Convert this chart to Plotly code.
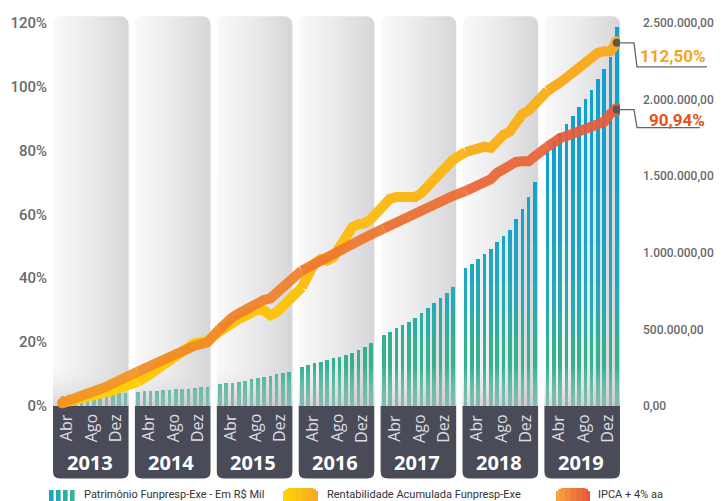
import numpy as np
import plotly.graph_objects as go

# ---------------- DATA ----------------
years = [2013, 2014, 2015, 2016, 2017, 2018, 2019]
month_labels = ["Abr", "Ago", "Dez"]

# Patrimônio Funpresp-Exe - Em R$ Mil (monthly; 2013 starts in February)
pat_2013 = [67000, 69000, 71000, 73000, 75000, 77000, 79000, 81000, 83000, 85000, 87000]
pat_2014 = [93000, 96000, 98000, 100000, 102000, 104000, 108000, 111000, 114000, 117500, 122000, 126000]
pat_2015 = [141600, 148000, 152000, 159000, 165000, 174000, 181000, 189000, 198000, 206000, 215000, 224000]
pat_2016 = [257000, 268000, 279000, 289000, 300000, 311000, 322000, 333000, 348000, 366000, 385000, 409000]
pat_2017 = [463000, 485000, 507000, 529000, 550000, 572000, 605000, 638000, 670000, 703000, 735000, 779000]
pat_2018 = [899000, 927000, 957000, 990000, 1025000, 1072000, 1110000, 1149000, 1219000, 1286000, 1366000, 1464000]
pat_2019 = [1671000, 1730000, 1782000, 1841000, 1893000, 1952000, 2004000, 2063000, 2134000, 2200000, 2278000, 2474000]

# Rentabilidade Acumulada Funpresp-Exe (%)
rent_2013 = [1.0, 1.4, 1.9, 2.4, 2.9, 3.4, 3.8, 4.3, 4.9, 5.6, 6.2]
rent_2014 = [7.6, 8.6, 10.0, 11.5, 12.9, 14.4, 15.9, 17.4, 18.9, 19.7, 20.0, 20.4]
rent_2015 = [23.4, 24.9, 26.2, 27.2, 28.2, 29.2, 30.2, 29.9, 28.4, 29.3, 31.1, 33.0]
rent_2016 = [37.1, 40.9, 44.6, 46.0, 45.5, 46.6, 49.7, 52.8, 56.0, 56.9, 57.2, 58.6]
rent_2017 = [62.8, 64.9, 65.4, 65.4, 65.4, 65.4, 66.7, 68.7, 70.6, 72.5, 74.7, 77.1]
rent_2018 = [79.5, 80.2, 80.8, 81.2, 80.8, 83.1, 84.9, 85.9, 88.7, 91.4, 92.5, 94.3]
rent_2019 = [98.7, 99.7, 101.3, 102.8, 104.4, 105.9, 107.5, 109.0, 110.6, 111.1, 111.1, 113.7]

# IPCA + 4% aa (%)
ipca_2013 = [1.0, 1.6, 2.4, 3.1, 3.9, 4.6, 5.3, 6.1, 6.9, 7.9, 8.9]
ipca_2014 = [10.8, 11.8, 12.7, 13.6, 14.5, 15.5, 16.3, 17.2, 18.0, 18.9, 19.7, 19.9]
ipca_2015 = [24.2, 26.5, 27.8, 29.0, 30.1, 31.3, 32.4, 33.2, 33.7, 35.4, 37.2, 38.9]
ipca_2016 = [42.4, 43.5, 44.6, 45.8, 46.8, 47.8, 48.7, 49.7, 50.8, 51.8, 52.7, 53.7]
ipca_2017 = [55.6, 56.6, 57.5, 58.5, 59.0, 59.8, 60.8, 61.8, 62.8, 63.9, 64.9, 65.8]
ipca_2018 = [67.3, 68.1, 68.8, 69.5, 71.0, 73.0, 74.1, 75.3, 76.4, 76.6, 76.6, 78.2]
ipca_2019 = [81.2, 82.7, 83.9, 84.5, 85.2, 85.9, 86.6, 87.3, 88.0, 89.0, 91.6, 92.8]

final_rent_label = "112,50%"
final_ipca_label = "90,94%"

left_ticks = [0, 20, 40, 60, 80, 100, 120]
right_ticks = [0, 500000, 1000000, 1500000, 2000000, 2500000]

legend_labels = ["Patrimônio Funpresp-Exe - Em R$ Mil",
                 "Rentabilidade Acumulada Funpresp-Exe",
                 "IPCA + 4% aa"]

# ---------------- GEOMETRY / STYLE ----------------
W, H = 724, 501
ML, MR, MT, MB = 53, 104, 16, 22
PW, PH = W - ML - MR, H - MT - MB
SLOT = 13                      # 12 months + 1 gap per year
XMIN, XMAX = -0.5, len(years) * SLOT - 1.5
PXX = PW / (XMAX - XMIN)        # px per x unit
PXY = 383.3 / 120.0             # px per percent
YMAX = 120 + (22.7 - MT) / PXY
YMIN = YMAX - PH / PXY
Y2K = 2500000 / 120.0           # R$ Mil per percent (both axes share pixels)

def px_to_paper_x(px):
    return (px - ML) / PW

def px_to_paper_y(py):
    return (MT + PH - py) / PH

def series_xy(lists):
    xs, ys = [], []
    for i, vals in enumerate(lists):
        start = 12 - len(vals)
        for k, v in enumerate(vals):
            xs.append(i * SLOT + start + k)
            ys.append(v)
    return xs, ys

pat_x, pat_y = series_xy([pat_2013, pat_2014, pat_2015, pat_2016, pat_2017, pat_2018, pat_2019])
rent_x, rent_y = series_xy([rent_2013, rent_2014, rent_2015, rent_2016, rent_2017, rent_2018, rent_2019])
ipca_x, ipca_y = series_xy([ipca_2013, ipca_2014, ipca_2015, ipca_2016, ipca_2017, ipca_2018, ipca_2019])

def br_number(v):
    s = f"{v:,.2f}"
    return s.replace(",", "X").replace(".", ",").replace("X", ".")

def mix(c1, c2, t):
    a = [int(c1[i:i + 2], 16) for i in (1, 3, 5)]
    b = [int(c2[i:i + 2], 16) for i in (1, 3, 5)]
    return "#" + "".join(f"{round(a[j] + (b[j] - a[j]) * t):02x}" for j in range(3))

fig = go.Figure()

# ---- light panels (horizontal gradient, rounded top) on main y axis
def rounded_top(x0, x1, y0, y1, r=8, n=8):
    rx, ry = r / PXX, r / PXY
    xs, ys = [x0], [y0]
    for k in range(n + 1):
        a = np.pi - k * (np.pi / 2) / n
        xs.append(x0 + rx + rx * np.cos(a)); ys.append(y1 - ry + ry * np.sin(a))
    for k in range(n + 1):
        a = np.pi / 2 - k * (np.pi / 2) / n
        xs.append(x1 - rx + rx * np.cos(a)); ys.append(y1 - ry + ry * np.sin(a))
    xs += [x1, x0]; ys += [y0, y0]
    return xs, ys

for i, yr in enumerate(years):
    x0, x1 = i * SLOT - 0.5, i * SLOT + 11.5
    xs, ys = rounded_top(x0, x1, 0, YMAX - 0.05)
    fig.add_trace(go.Scatter(
        x=xs, y=ys, mode="lines", fill="toself", line=dict(width=0),
        fillgradient=dict(type="horizontal", start=x0, stop=x1,
                          colorscale=[[0, "#f9f9f9"], [0.5, "#eaeaeb"], [1, "#d6d6d9"]]),
        hoverinfo="skip", showlegend=False, xaxis="x", yaxis="y"))

# ---- bars (colour bands to mimic the vertical gradient) on y2
bands = [(0, 450000, "#35b192"), (450000, 600000, "#2eaea3"), (600000, 800000, "#26aab3"),
         (800000, 1050000, "#1fa7c0"), (1050000, 1400000, "#18a4c9"), (1400000, 9e9, "#12a1cf")]
for lo, hi, col in bands:
    seg = [max(0, min(v, hi) - lo) for v in pat_y]
    fig.add_trace(go.Bar(x=pat_x, y=seg, width=0.56, marker=dict(color=col, line=dict(width=0)),
                         hoverinfo="skip", showlegend=False, xaxis="x", yaxis="y2"))

# ---- bottom fade over bars
fx, fy = [], []
fade_top = 40 / PXY * Y2K
for i in range(len(years)):
    x0, x1 = i * SLOT - 0.5, i * SLOT + 11.5
    fx += [x0, x1, x1, x0, x0, None]
    fy += [0, 0, fade_top, fade_top, 0, None]
fig.add_trace(go.Scatter(
    x=fx, y=fy, mode="lines", fill="toself", line=dict(width=0),
    fillgradient=dict(type="vertical", start=0, stop=fade_top,
                      colorscale=[[0, "rgba(190,190,196,0.6)"], [1, "rgba(232,232,234,0)"]]),
    hoverinfo="skip", showlegend=False, xaxis="x", yaxis="y2"))

# ---- lines on y3 (per-year segments to mimic the colour gradient)
def add_gradient_line(xs, ys, c_start, c_end, opacity):
    n = len(years)
    for i in range(n):
        idx = [k for k, xv in enumerate(xs) if i * SLOT <= xv < (i + 1) * SLOT]
        if i < n - 1:
            idx = idx + [idx[-1] + 1]
        col = mix(c_start, c_end, i / (n - 1))
        fig.add_trace(go.Scatter(x=[xs[k] for k in idx], y=[ys[k] for k in idx], mode="lines",
                                 line=dict(color=col, width=10), opacity=opacity,
                                 hoverinfo="skip", showlegend=False, xaxis="x", yaxis="y3"))

add_gradient_line(rent_x, rent_y, "#ffcf08", "#f8ac24", 1.0)
add_gradient_line(ipca_x, ipca_y, "#f49320", "#e85c3a", 0.93)

# round cap at start
fig.add_trace(go.Scatter(x=[ipca_x[0]], y=[ipca_y[0]], mode="markers",
                         marker=dict(color="#f49320", size=11), hoverinfo="skip",
                         showlegend=False, xaxis="x", yaxis="y3"))
# end dots
for xs_, ys_, col in [(rent_x, rent_y, "#f8ac24"), (ipca_x, ipca_y, "#e85c3a")]:
    fig.add_trace(go.Scatter(x=[xs_[-1]], y=[ys_[-1]], mode="markers",
                             marker=dict(color=col, size=13), hoverinfo="skip",
                             showlegend=False, xaxis="x", yaxis="y3"))
    fig.add_trace(go.Scatter(x=[xs_[-1]], y=[ys_[-1]], mode="markers",
                             marker=dict(color="#555555", size=8), hoverinfo="skip",
                             showlegend=False, xaxis="x", yaxis="y3"))

shapes = []
annotations = []

# ---- dark bottom panels (rounded bottom corners)
for i, yr in enumerate(years):
    x0, x1 = i * SLOT - 0.5, i * SLOT + 11.5
    rx, ry = 7 / PXX, 7 / PXY
    yb = YMIN + 0.15
    path = (f"M {x0},0 L {x0},{yb + ry} Q {x0},{yb} {x0 + rx},{yb} "
            f"L {x1 - rx},{yb} Q {x1},{yb} {x1},{yb + ry} L {x1},0 Z")
    shapes.append(dict(type="path", path=path, xref="x", yref="y", layer="below",
                       fillcolor="#4a4b58", line=dict(width=0)))
    # month labels
    for lab, off in zip(month_labels, [1.6, 5.5, 9.3]):
        annotations.append(dict(x=i * SLOT + off, y=-6.5 / PXY, xref="x", yref="y",
                                text=lab, textangle=-90, showarrow=False,
                                xanchor="center", yanchor="top",
                                font=dict(family="Open Sans, Arial", size=16, color="#dcdce2")))
    annotations.append(dict(x=i * SLOT + 5.3, y=-56.5 / PXY, xref="x", yref="y",
                            text=f"<b>{yr}</b>", showarrow=False,
                            xanchor="center", yanchor="middle",
                            font=dict(family="Open Sans, Arial", size=20, color="#ffffff")))

# ---- end-value leader lines and labels
def leader(xv, yv, drop_px, end_px, text, col, tx_px, ty_off):
    dx = px_to_paper_x(ML + (xv - XMIN) * PXX)
    dy = (yv - YMIN) / (YMAX - YMIN)
    xa = px_to_paper_x(634)
    xb = px_to_paper_x(637)
    xc = px_to_paper_x(end_px)
    dy2 = dy - drop_px / PH
    shapes.append(dict(type="path", xref="paper", yref="paper",
                       path=f"M {dx},{dy} L {xa},{dy} L {xb},{dy2} L {xc},{dy2}",
                       line=dict(color="#666666", width=1.3)))
    annotations.append(dict(x=px_to_paper_x(tx_px), y=dy - ty_off / PH, xref="paper", yref="paper",
                            text=f"<b>{text}</b>", showarrow=False, xanchor="center",
                            yanchor="middle",
                            font=dict(family="Roboto, Arial", size=17, color=col)))

leader(rent_x[-1], rent_y[-1], 24, 707, final_rent_label, "#f4a41e", 673, 13)
leader(ipca_x[-1], ipca_y[-1], 18, 700, final_ipca_label, "#e2531f", 677, 10)

# ---- custom legend
ly0, ly1 = px_to_paper_y(503), px_to_paper_y(490)
for k in range(4):
    bx0 = 49 + k * 7.0
    shapes.append(dict(type="rect", xref="paper", yref="paper",
                       x0=px_to_paper_x(bx0), x1=px_to_paper_x(bx0 + 4.6),
                       y0=ly0, y1=ly1, fillcolor=mix("#1aa6c2", "#38b294", k / 3),
                       line=dict(width=0)))

def pill(px0, px1, py0, py1, c0, c1, r=7, n=14):
    step = (px1 - px0) / n
    for k in range(n):
        sx0 = px0 + k * step
        sx1 = sx0 + step + 0.4
        cx = sx0 + step / 2
        d = min(cx - px0, px1 - cx)
        top = py0 + (r - np.sqrt(max(r * r - (r - d) ** 2, 0)) if d < r else 0)
        shapes.append(dict(type="rect", xref="paper", yref="paper",
                           x0=px_to_paper_x(sx0), x1=px_to_paper_x(min(sx1, px1)),
                           y0=px_to_paper_y(py1), y1=px_to_paper_y(top),
                           fillcolor=mix(c0, c1, k / (n - 1)), line=dict(width=0)))

pill(283, 318, 488, 506, "#ffd400", "#f7a823")
pill(556, 590, 488, 506, "#f6a33a", "#e8553b")

for lab, lx in zip(legend_labels, [82, 325, 596]):
    annotations.append(dict(x=px_to_paper_x(lx), y=px_to_paper_y(494), xref="paper", yref="paper",
                            text=lab, showarrow=False, xanchor="left", yanchor="middle",
                            font=dict(family="Roboto, Arial", size=11, color="#333333")))

tickfont = dict(family="Roboto, Arial", size=15, color="#6a6a6a", weight=500)
fig.update_layout(
    width=W, height=H,
    margin=dict(l=ML, r=MR, t=MT, b=MB, autoexpand=False),
    paper_bgcolor="#ffffff", plot_bgcolor="rgba(0,0,0,0)",
    showlegend=False, barmode="stack", hovermode=False,
    xaxis=dict(range=[XMIN, XMAX], visible=False, fixedrange=True, automargin=False),
    yaxis=dict(range=[YMIN, YMAX], showgrid=False, zeroline=False, showline=False,
               tickvals=left_ticks, ticktext=[f"{v}%" for v in left_ticks],
               ticks="", ticklabelstandoff=5, tickfont=tickfont, fixedrange=True,
               automargin=False),
    yaxis2=dict(range=[YMIN * Y2K, YMAX * Y2K], overlaying="y", side="right",
                showgrid=False, zeroline=False, showline=False,
                tickvals=right_ticks, ticktext=[br_number(v) for v in right_ticks],
                ticks="", ticklabelstandoff=22,
                tickfont=dict(family="Roboto, Arial", size=12, color="#6a6a6a", weight=500),
                fixedrange=True, automargin=False),
    yaxis3=dict(range=[YMIN, YMAX], overlaying="y", visible=False, fixedrange=True,
                automargin=False),
    shapes=shapes, annotations=annotations,
)

fig.write_html("out.html", config={"displayModeBar": False},
               post_script="document.body.style.margin='0px';")
